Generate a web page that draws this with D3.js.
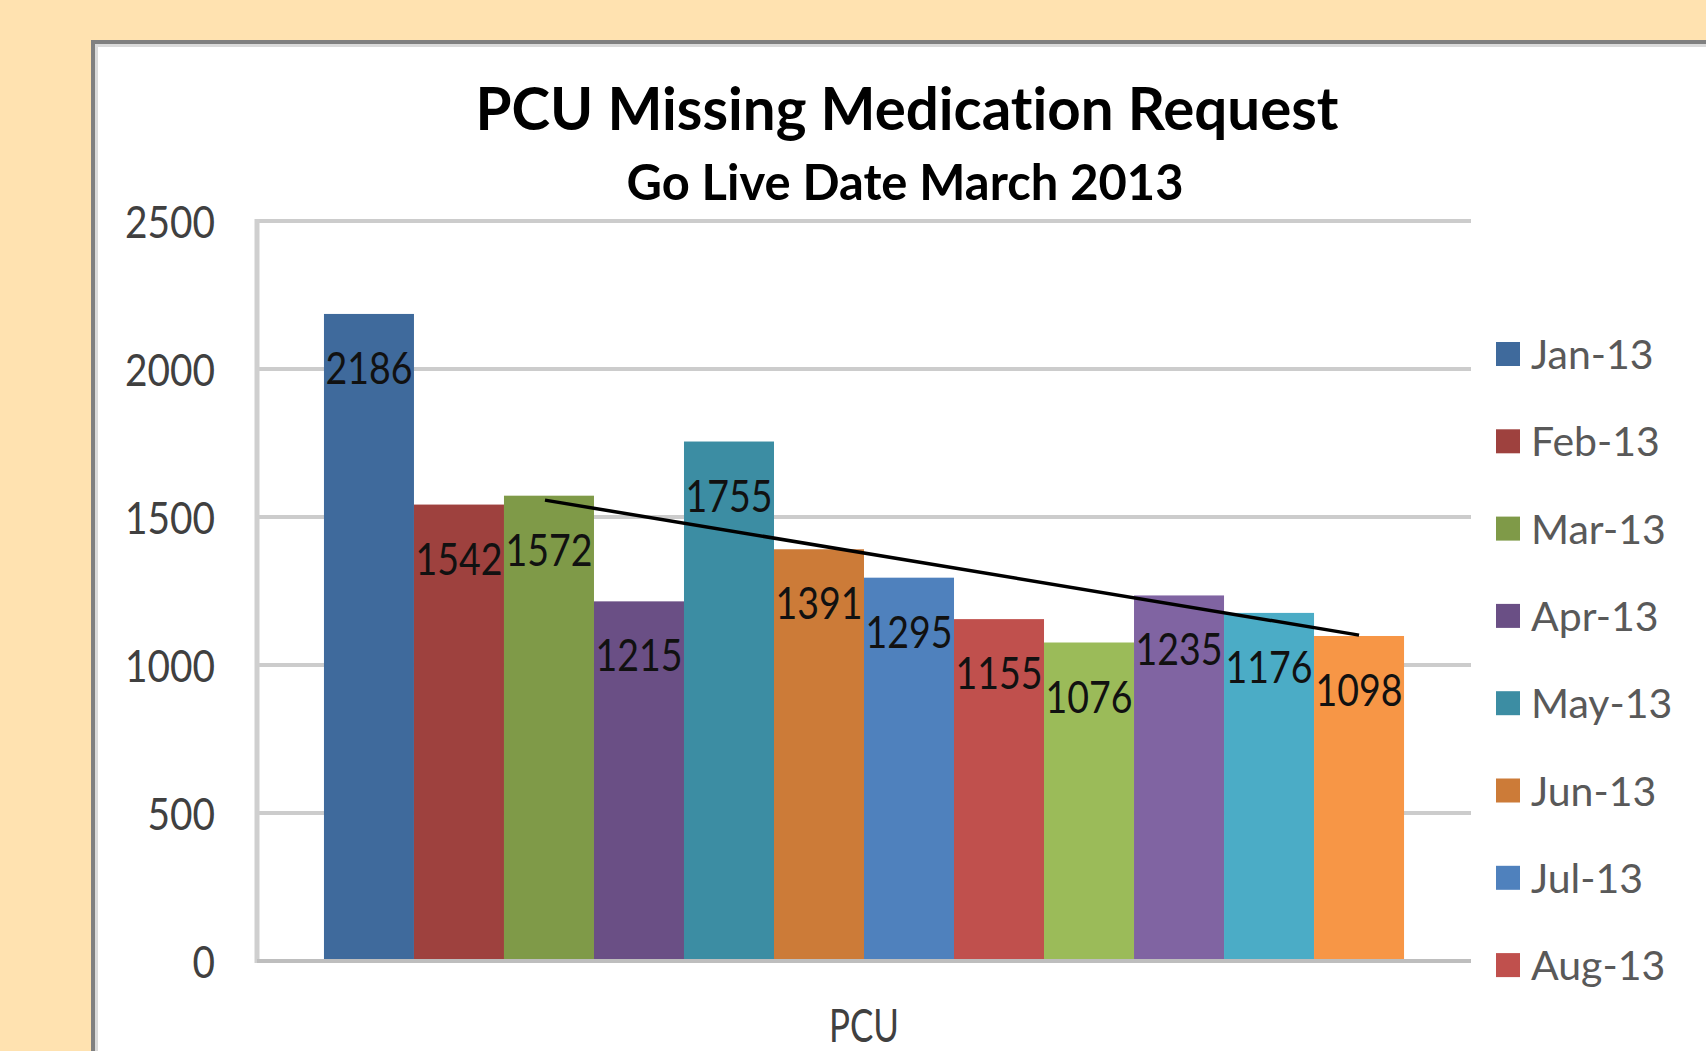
<!DOCTYPE html>
<html>
<head>
<meta charset="utf-8">
<script src="https://cdnjs.cloudflare.com/ajax/libs/d3/7.8.5/d3.min.js"></script>
<style>
  html, body { margin:0; padding:0; background:#FFE2B0; overflow:hidden; }
  svg { display:block; font-family: Lato, "Open Sans", sans-serif; font-variant-ligatures: none; }
</style>
</head>
<body>
<div class="canvas"></div>
<script>
// chart data
var category = ["PCU"];
var months = ["Jan-13","Feb-13","Mar-13","Apr-13","May-13","Jun-13",
              "Jul-13","Aug-13","Sep-13","Oct-13","Nov-13","Dec-13"];
var values = [2186,1542,1572,1215,1755,1391,1295,1155,1076,1235,1176,1098];
var colors = ["#3F6A9C","#9E413E","#7F9A48","#6A4F85","#3C8DA3","#CC7B38",
              "#4F81BD","#C0504D","#9BBB59","#8064A2","#4BACC6","#F79646"];
var yTicks = [0,500,1000,1500,2000,2500];
// hand drawn trend line
var trendMonths = ["Mar-13","Dec-13"];
var trendValues = [1557,1101];
// only the first 8 legend rows fit in the frame
var legendMonths = months.slice(0,8);

var W = 1706, H = 1051;
var plot = {l:257, r:1471, t:221, b:961};

var svg = d3.select('.canvas')
    .append('svg')
    .attr('width',W)
    .attr('height',H);

//white chart frame, runs off the right and bottom edges
svg.append('rect')
    .attr('x',93).attr('y',42)
    .attr('width',W).attr('height',H)
    .style('fill','#fff')
    .style('stroke','#808080')
    .style('stroke-width',4);
svg.append('rect')
    .attr('x',96.5).attr('y',45.5)
    .attr('width',W).attr('height',H)
    .style('fill','none')
    .style('stroke','#DADADA')
    .style('stroke-width',3);

var y = d3.scaleLinear().domain([0,2500]).range([plot.b,plot.t]);
var x0 = d3.scaleBand().domain(category).range([plot.l,plot.r]).paddingOuter(0.062);
var x1 = d3.scaleBand().domain(months).range([0,x0.bandwidth()]);

//gridlines
svg.append('g')
    .selectAll('line')
    .data(yTicks.filter(function(d){ return d>0; }))
    .enter()
    .append('line')
    .attr('x1',plot.l).attr('x2',plot.r)
    .attr('y1',function(d){ return y(d); })
    .attr('y2',function(d){ return y(d); })
    .style('stroke','#CCCCCC')
    .style('stroke-width',4);

//y axis labels
svg.append('g')
    .selectAll('text')
    .data(yTicks)
    .enter()
    .append('text')
    .attr('x',215)
    .attr('y',function(d){ return y(d)+17; })
    .attr('text-anchor','end')
    .attr('textLength',function(d){ return String(d).length*22.5; })
    .attr('lengthAdjust','spacingAndGlyphs')
    .style('font-size','44px')
    .style('fill','#404040')
    .text(function(d){ return d; });

//bars
var g = svg.append('g')
    .attr('transform','translate('+x0('PCU')+',0)');

g.selectAll('rect')
    .data(values)
    .enter()
    .append('rect')
    .attr('x',function(d,i){ return x1(months[i]); })
    .attr('y',function(d){ return y(d); })
    .attr('width',x1.bandwidth())
    .attr('height',function(d){ return y(0)-y(d); })
    .style('fill',function(d,i){ return colors[i]; });

//axis lines
svg.append('line')
    .attr('x1',plot.l).attr('x2',plot.l)
    .attr('y1',plot.t-2).attr('y2',plot.b+2)
    .style('stroke','#CFCFCF').style('stroke-width',5);
svg.append('line')
    .attr('x1',plot.l).attr('x2',plot.r)
    .attr('y1',plot.b).attr('y2',plot.b)
    .style('stroke','#BEBEBE').style('stroke-width',4);

//trend line
var line = d3.line()
    .x(function(d,i){ return x0('PCU')+x1(trendMonths[i])+x1.bandwidth()/2 - (i==0?4:0); })
    .y(function(d){ return y(d); });
svg.append('path')
    .datum(trendValues)
    .attr('d',line)
    .style('fill','none')
    .style('stroke','#000')
    .style('stroke-width',3.5);

//data labels
g.selectAll('text')
    .data(values)
    .enter()
    .append('text')
    .attr('x',function(d,i){ return x1(months[i])+x1.bandwidth()/2; })
    .attr('y',function(d){ return y(d)+70; })
    .attr('text-anchor','middle')
    .attr('textLength',87)
    .attr('lengthAdjust','spacingAndGlyphs')
    .style('font-size','44px')
    .style('fill','#111')
    .text(function(d){ return d; });

//category label
svg.append('text')
    .attr('x',x0('PCU')+x0.bandwidth()/2)
    .attr('y',1042)
    .attr('text-anchor','middle')
    .attr('textLength',70)
    .attr('lengthAdjust','spacingAndGlyphs')
    .style('font-size','47px')
    .style('fill','#404040')
    .text(category[0]);

//titles
svg.append('text')
    .attr('x',907).attr('y',130)
    .attr('text-anchor','middle')
    .attr('textLength',863)
    .attr('lengthAdjust','spacingAndGlyphs')
    .style('font-size','60px').style('font-weight','bold')
    .text('PCU Missing Medication Request');
svg.append('text')
    .attr('x',905).attr('y',200)
    .attr('text-anchor','middle')
    .attr('textLength',557)
    .attr('lengthAdjust','spacingAndGlyphs')
    .style('font-size','49px').style('font-weight','bold')
    .text('Go Live Date March 2013');

//legend
var legend = svg.append('g')
    .selectAll('g')
    .data(legendMonths)
    .enter()
    .append('g')
    .attr('transform',function(d,i){ return 'translate(1496,'+(354+i*87.3)+')'; });
legend.append('rect')
    .attr('x',0).attr('y',-12)
    .attr('width',24).attr('height',24)
    .style('fill',function(d,i){ return colors[i]; });
legend.append('text')
    .attr('x',35).attr('y',15)
    .style('font-size','41px')
    .style('fill','#595959')
    .text(function(d){ return d; });
</script>
</body>
</html>
